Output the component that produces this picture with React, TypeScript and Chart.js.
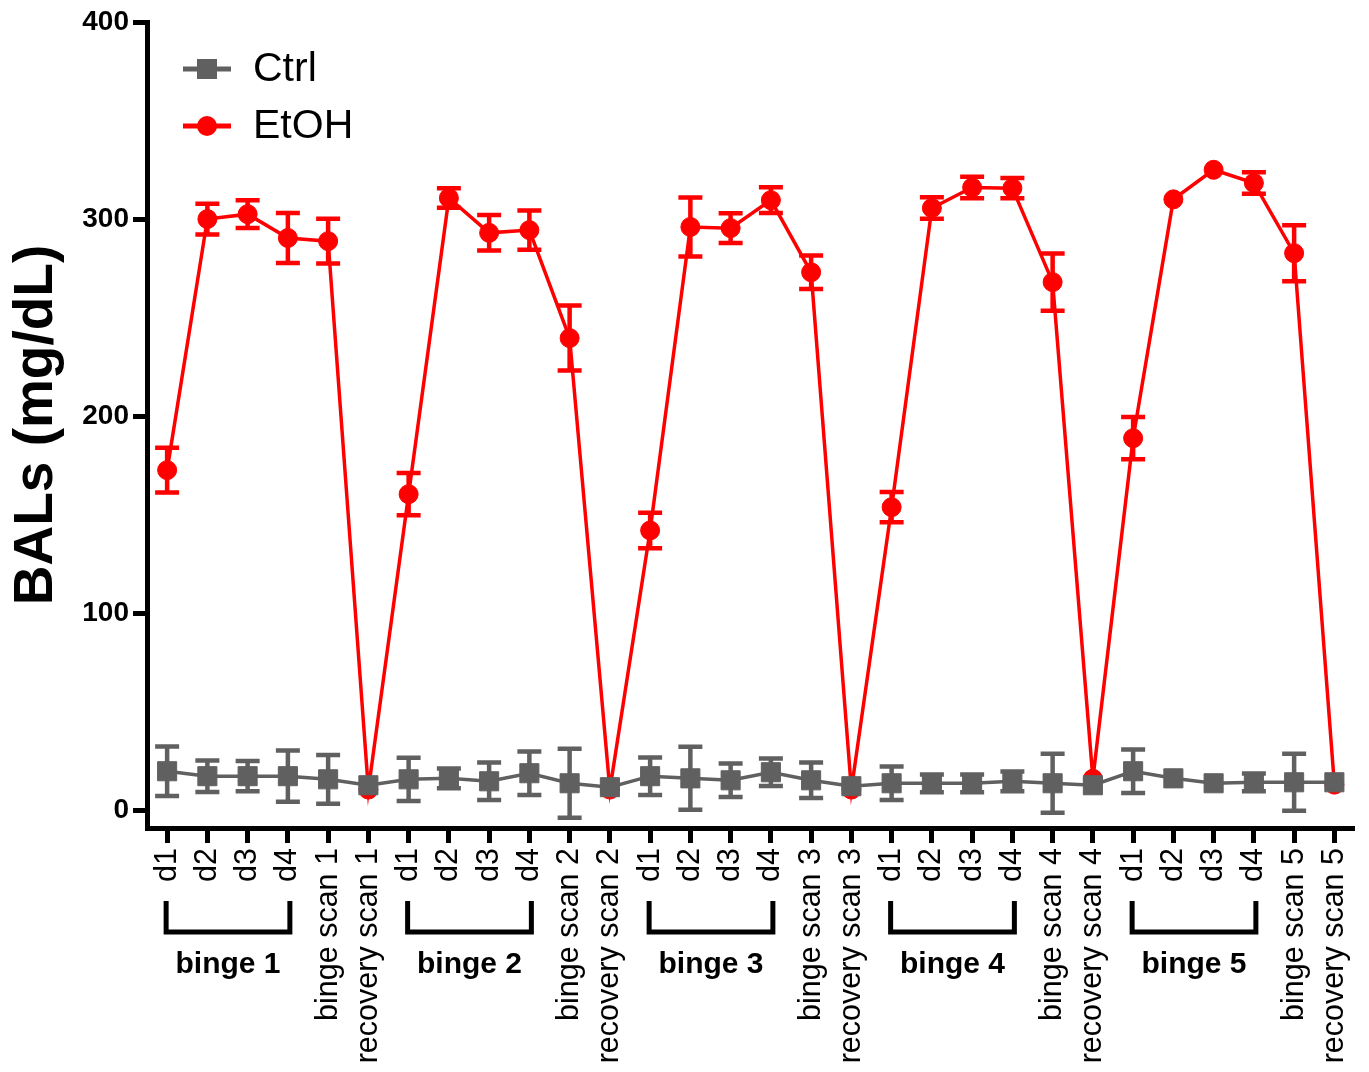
import { useEffect, useRef } from 'react';
import { Chart, registerables } from 'chart.js';

Chart.register(...registerables);

const FONT = 'Arial, "Liberation Sans", sans-serif';

// x categories: four binge days, then the binge scan and recovery scan of each cycle
const categories = [
  'd1', 'd2', 'd3', 'd4', 'binge scan 1', 'recovery scan 1',
  'd1', 'd2', 'd3', 'd4', 'binge scan 2', 'recovery scan 2',
  'd1', 'd2', 'd3', 'd4', 'binge scan 3', 'recovery scan 3',
  'd1', 'd2', 'd3', 'd4', 'binge scan 4', 'recovery scan 4',
  'd1', 'd2', 'd3', 'd4', 'binge scan 5', 'recovery scan 5',
];

const bingeLabels = ['binge 1', 'binge 2', 'binge 3', 'binge 4', 'binge 5'];

const yTicks = [0, 100, 200, 300, 400];

// Ctrl BALs (mg/dL), mean and SEM
const ctrlMean = [
  19.8, 17.3, 17.3, 17.3, 15.7, 12.7,
  15.7, 16.2, 14.7, 18.8, 13.7, 11.7,
  17.3, 16.2, 15.2, 19.3, 15.2, 12.2,
  13.7, 13.7, 13.7, 14.7, 13.7, 12.7,
  19.8, 16.2, 13.7, 14.2, 14.2, 14.2,
];
const ctrlSem = [
  12.5, 8, 7.7, 13, 12.4, 0,
  11, 5, 9.5, 11, 17.5, 0,
  9.5, 16, 8.5, 7, 9, 0,
  8.5, 4.5, 4.5, 5, 15, 0,
  11, 0, 0, 4.5, 14.5, 0,
];

// EtOH BALs (mg/dL), mean and SEM
const etohMean = [
  172.6, 300, 302.5, 290.4, 288.8, 10.5,
  160.4, 310.7, 293, 294.4, 239.6, 10.5,
  142, 296, 295.4, 309.6, 273, 10.5,
  153.8, 305.6, 316, 315.7, 268, 16,
  188.8, 310, 325, 318.3, 282.7, 13,
];
const etohSem = [
  11.4, 7.8, 7, 12.7, 11.4, 0,
  10.7, 5, 9, 10, 16.5, 0,
  9, 15, 7.5, 6.5, 8.5, 0,
  7.7, 5.5, 5.5, 5.2, 14.5, 0,
  10.7, 0, 0, 5.5, 14.2, 0,
];

const GRAY = '#606060';
const RED = '#ff0000';

// Vertical SEM bars with caps, drawn right after each dataset
const errorBarPlugin = {
  id: 'errorBars',
  afterDatasetDraw(chart: any, args: any) {
    const ds = chart.data.datasets[args.index];
    const errs: number[] | undefined = ds.errors;
    if (!errs) return;
    const yScale = chart.scales.y;
    const ctx = chart.ctx;
    ctx.save();
    ctx.strokeStyle = ds.borderColor;
    ctx.lineWidth = 4.5;
    ctx.lineCap = 'butt';
    args.meta.data.forEach((pt: any, i: number) => {
      const e = errs[i];
      if (!e) return;
      const v = ds.data[i];
      const yt = yScale.getPixelForValue(v + e);
      const yb = yScale.getPixelForValue(v - e);
      ctx.beginPath();
      ctx.moveTo(pt.x, yt);
      ctx.lineTo(pt.x, yb);
      ctx.moveTo(pt.x - 12, yt);
      ctx.lineTo(pt.x + 12, yt);
      ctx.moveTo(pt.x - 12, yb);
      ctx.lineTo(pt.x + 12, yb);
      ctx.stroke();
    });
    ctx.restore();
  },
};

// Legend inside the plot, top-left
const legendPlugin = {
  id: 'innerLegend',
  afterDraw(chart: any) {
    const ctx = chart.ctx;
    const rows = [
      { label: chart.data.datasets[0].label, color: GRAY, shape: 'rect', y: 69 },
      { label: chart.data.datasets[1].label, color: RED, shape: 'circle', y: 126 },
    ];
    ctx.save();
    rows.forEach((r) => {
      ctx.strokeStyle = r.color;
      ctx.fillStyle = r.color;
      ctx.lineWidth = 5;
      ctx.beginPath();
      ctx.moveTo(183, r.y);
      ctx.lineTo(231, r.y);
      ctx.stroke();
      if (r.shape === 'rect') {
        ctx.fillRect(197, r.y - 10, 20, 20);
      } else {
        ctx.beginPath();
        ctx.arc(207, r.y, 10, 0, Math.PI * 2);
        ctx.fill();
      }
      ctx.fillStyle = '#000';
      ctx.font = `41px ${FONT}`;
      ctx.textAlign = 'left';
      ctx.textBaseline = 'middle';
      ctx.fillText(r.label, 253, r.y + 1);
    });
    ctx.restore();
  },
};

// Brackets under d1..d4 of each cycle with the "binge N" caption
const bracketPlugin = {
  id: 'bingeBrackets',
  afterDraw(chart: any) {
    const ctx = chart.ctx;
    const xs = chart.scales.x;
    ctx.save();
    ctx.strokeStyle = '#000';
    ctx.lineWidth = 5;
    ctx.lineJoin = 'miter';
    ctx.fillStyle = '#000';
    ctx.font = `bold 30px ${FONT}`;
    ctx.textAlign = 'center';
    ctx.textBaseline = 'alphabetic';
    bingeLabels.forEach((label, b) => {
      const x1 = xs.getPixelForValue(b * 6) - 1;
      const x2 = xs.getPixelForValue(b * 6 + 3) + 2;
      ctx.beginPath();
      ctx.moveTo(x1, 901);
      ctx.lineTo(x1, 932);
      ctx.lineTo(x2, 932);
      ctx.lineTo(x2, 901);
      ctx.stroke();
      ctx.fillText(label, (x1 + x2) / 2, 973);
    });
    ctx.restore();
  },
};

export default function App() {
  const canvasRef = useRef<HTMLCanvasElement>(null);

  useEffect(() => {
    const canvas = canvasRef.current;
    if (!canvas) return;
    const chart = new Chart(canvas, {
      type: 'line',
      data: {
        labels: categories,
        datasets: [
          {
            label: 'Ctrl',
            data: ctrlMean,
            errors: ctrlSem,
            borderColor: GRAY,
            backgroundColor: GRAY,
            borderWidth: 3.5,
            pointStyle: 'rect',
            pointRadius: 13.5,
            pointBorderWidth: 1,
            pointBackgroundColor: GRAY,
            pointBorderColor: GRAY,
            tension: 0,
          } as any,
          {
            label: 'EtOH',
            data: etohMean,
            errors: etohSem,
            borderColor: RED,
            backgroundColor: RED,
            borderWidth: 3.5,
            pointStyle: 'circle',
            pointRadius: 9.5,
            pointBorderWidth: 1,
            pointBackgroundColor: RED,
            pointBorderColor: RED,
            tension: 0,
          } as any,
        ],
      },
      options: {
        animation: false,
        responsive: false,
        layout: { padding: { top: 22, right: 14, left: 0, bottom: 0 } },
        plugins: {
          legend: { display: false },
          tooltip: { enabled: false },
        },
        scales: {
          x: {
            type: 'category',
            offset: true,
            grid: {
              display: true,
              drawOnChartArea: false,
              offset: false,
              drawTicks: true,
              tickLength: 15,
              tickWidth: 5,
              tickColor: '#000',
            },
            border: { display: true, color: '#000', width: 5 },
            ticks: {
              autoSkip: false,
              minRotation: 90,
              maxRotation: 90,
              color: '#000',
              padding: 5,
              font: { size: 30.5, family: FONT },
            },
            afterFit(scale: any) {
              scale.height = 244;
              scale.paddingLeft = 0;
              scale.paddingRight = 0;
            },
          },
          y: {
            min: -9,
            max: 400,
            afterBuildTicks(scale: any) {
              scale.ticks = yTicks.map((v) => ({ value: v }));
            },
            grid: {
              display: true,
              drawOnChartArea: false,
              drawTicks: true,
              tickLength: 14,
              tickWidth: 5,
              tickColor: '#000',
            },
            border: { display: true, color: '#000', width: 5 },
            ticks: {
              color: '#000',
              padding: 4,
              font: { size: 28, weight: 'bold', family: FONT },
            },
            title: {
              display: true,
              text: 'BALs (mg/dL)',
              color: '#000',
              font: { size: 55, weight: 'bold', family: FONT },
              padding: { top: 4, bottom: 0 },
            },
            afterFit(scale: any) {
              scale.width = 147;
              scale.paddingTop = 0;
              scale.paddingBottom = 0;
            },
          },
        },
      },
      plugins: [errorBarPlugin, legendPlugin, bracketPlugin],
    });
    return () => chart.destroy();
  }, []);

  return (
    <div style={{ position: 'absolute', left: 0, top: 0, width: 1369, height: 1072, background: '#fff' }}>
      <canvas ref={canvasRef} width={1369} height={1072} style={{ display: 'block' }} />
    </div>
  );
}
